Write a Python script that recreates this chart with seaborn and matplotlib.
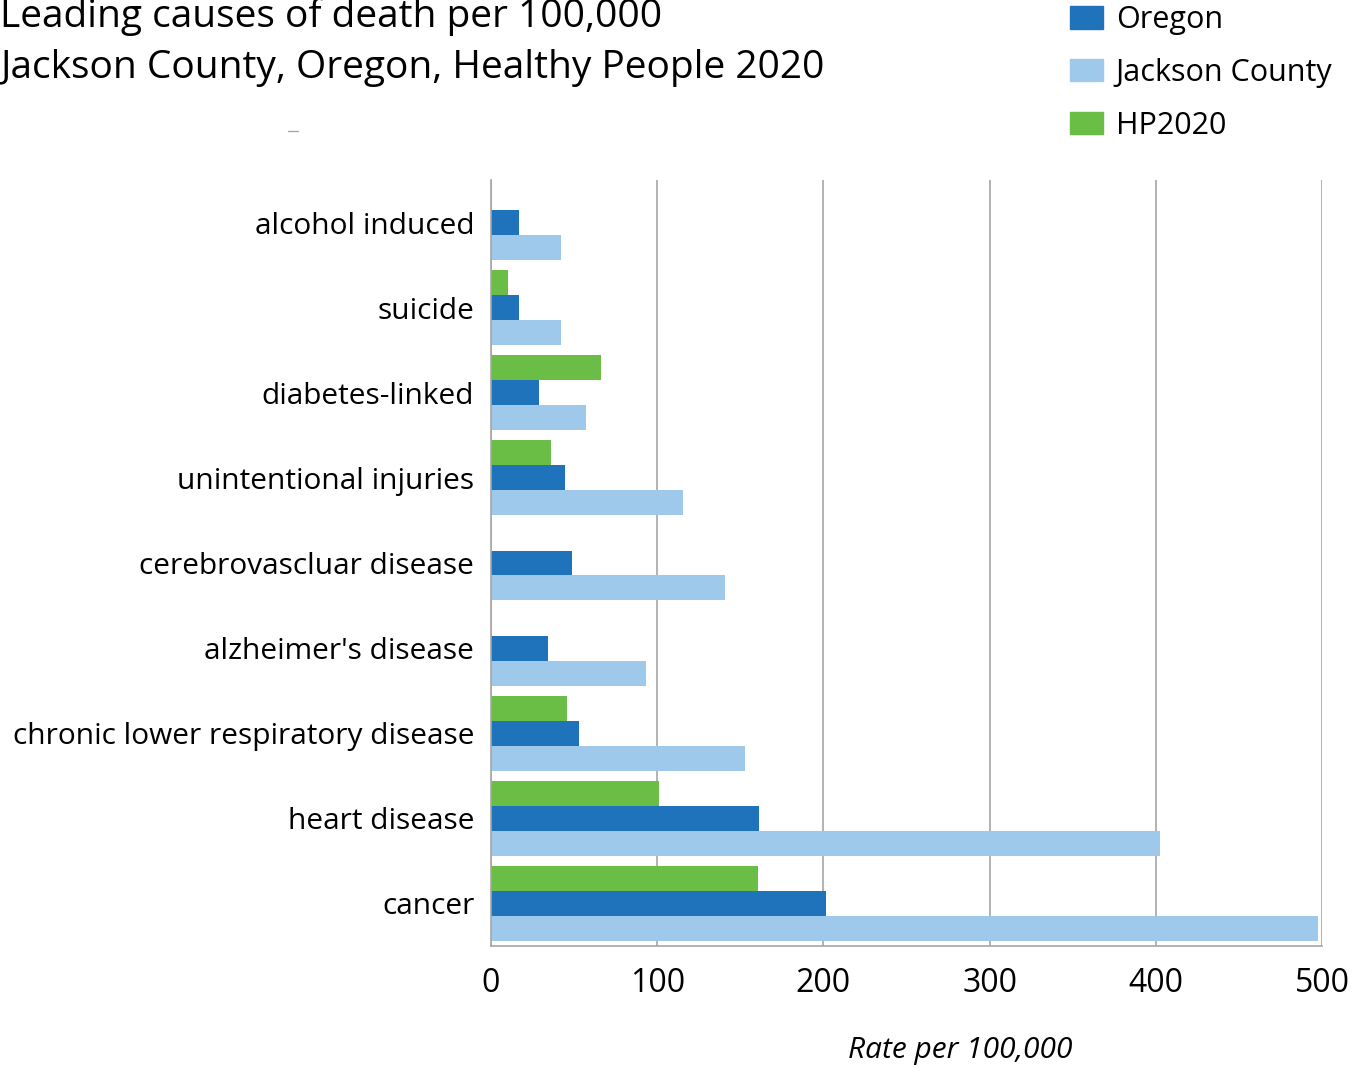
import matplotlib
matplotlib.use("Agg")
import matplotlib.pyplot as plt
import matplotlib.patches as mpatches
from matplotlib.lines import Line2D
import numpy as np
import pandas as pd
import seaborn as sns

# data
causes = ['alcohol induced', 'suicide', 'diabetes-linked', 'unintentional injuries',
          'cerebrovascluar disease', "alzheimer's disease",
          'chronic lower respiratory disease', 'heart disease', 'cancer']
oregon = [17, 17, 29, 44.5, 49, 34, 53, 161, 201.5]
jackson = [42, 42, 57, 115.5, 141, 93, 153, 402.5, 497.5]
hp2020 = [np.nan, 10, 66, 36, np.nan, np.nan, 46, 101, 160.5]

series = ['HP2020', 'Oregon', 'Jackson County']
legend_order = ['Oregon', 'Jackson County', 'HP2020']
colors = {'Oregon': '#1f73ba', 'Jackson County': '#9fc9ea', 'HP2020': '#6abd45'}

df = pd.DataFrame({'cause': causes, 'HP2020': hp2020, 'Oregon': oregon,
                   'Jackson County': jackson})
long = df.melt(id_vars='cause', var_name='series', value_name='rate').dropna()

sns.set_style('white')
plt.rcParams['font.family'] = ['Open Sans', 'DejaVu Sans']
plt.rcParams['text.color'] = 'black'
plt.rcParams['xtick.labelcolor'] = 'black'
plt.rcParams['ytick.labelcolor'] = 'black'

fig = plt.figure(figsize=(13.52, 10.67), dpi=100)
ax = fig.add_axes([491 / 1352, 1 - 946 / 1067, 831 / 1352, 766 / 1067])

sns.barplot(data=long, y='cause', x='rate', hue='series', order=causes,
            hue_order=series, palette=colors, orient='h', width=0.88,
            saturation=1, errorbar=None, legend=False, linewidth=0,
            edgecolor='none', ax=ax)

ax.set_xlim(0, 500)
ax.set_ylim(len(causes) - 0.5, -0.5)
ax.set_xticks(range(0, 501, 100))
ax.xaxis.grid(True, color='#a6a6a6', linewidth=1.2)
ax.set_axisbelow(True)
for s in ['top', 'right']:
    ax.spines[s].set_visible(False)
for s in ['left', 'bottom']:
    ax.spines[s].set_color('#a6a6a6')
    ax.spines[s].set_linewidth(1.2)

ax.set_xlabel('')
ax.set_ylabel('')
ax.tick_params(axis='x', length=5, color='#a6a6a6', labelsize=23, pad=10)
ax.tick_params(axis='y', which='major', length=0, labelsize=21.5, pad=12)
ax.set_yticks(np.arange(-0.5, len(causes), 1), minor=True)
ax.tick_params(axis='y', which='minor', length=8, color='#a6a6a6', width=1.2)

fig.text(0, 1 - 27 / 1067, 'Leading causes of death per 100,000',
         fontsize=28, va='baseline', ha='left')
fig.text(0, 1 - 78 / 1067, 'Jackson County, Oregon, Healthy People 2020',
         fontsize=28, va='baseline', ha='left')
fig.text(960 / 1352, 1 - 1058 / 1067, 'Rate per 100,000', fontsize=21.5,
         style='italic', ha='center', va='baseline')
fig.add_artist(Line2D([288 / 1352, 298 / 1352], [1 - 131 / 1067] * 2,
                      color='#a6a6a6', linewidth=1))

handles = [mpatches.Patch(color=colors[s], label=s) for s in legend_order]
fig.legend(handles=handles, loc='upper left',
           bbox_to_anchor=(1070 / 1352, 1 - 5 / 1067), frameon=False,
           fontsize=22, handlelength=1.08, handleheight=0.75,
           handletextpad=0.42, labelspacing=0.75, borderpad=0,
           borderaxespad=0)

fig.savefig('out.png', dpi=100)
